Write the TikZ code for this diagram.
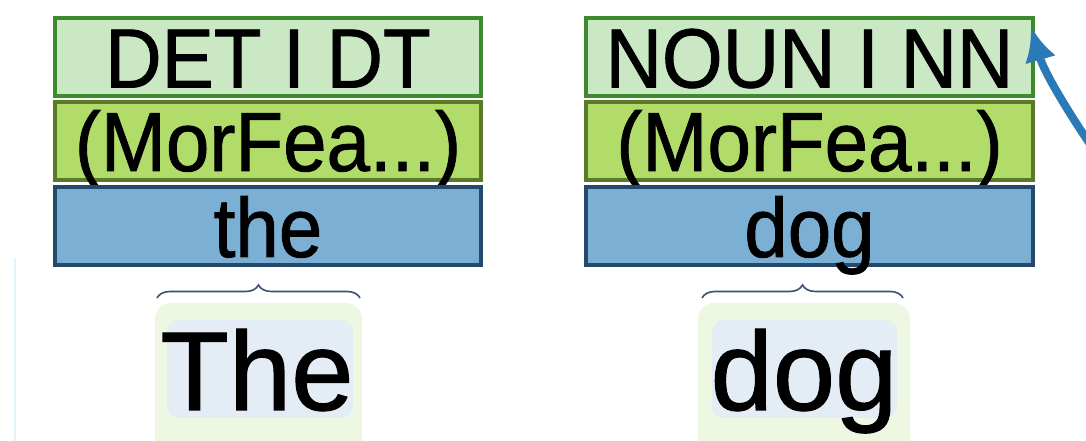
\documentclass[tikz,border=0pt]{standalone}
\usepackage{fontspec}
\setmainfont{Liberation Sans}
\newfontfamily\boxfont[FakeStretch=0.93, FakeBold=1]{Liberation Sans}
\newfontfamily\wordfont[FakeBold=1]{Liberation Sans}
\usetikzlibrary{decorations.pathreplacing,arrows.meta}
\definecolor{tagfill}{HTML}{C9E8C3}
\definecolor{tagdraw}{HTML}{3D8B2E}
\definecolor{morfill}{HTML}{B1DC69}
\definecolor{mordraw}{HTML}{5B7A28}
\definecolor{tokfill}{HTML}{7BAFD4}
\definecolor{tokdraw}{HTML}{25496B}
\definecolor{wordouter}{HTML}{EEF7E2}
\definecolor{wordinner}{HTML}{E4ECF6}
\definecolor{bracecol}{HTML}{3A5070}
\definecolor{arrowcol}{HTML}{2A7AB8}
\definecolor{faintline}{HTML}{E3F3FB}
\tikzset{
  layerbox/.style={rectangle, inner sep=0pt, line width=4pt, minimum height=78pt,
    font=\boxfont\fontsize{84}{86}\selectfont, text height=60pt, text depth=0pt},
  tagbox/.style={layerbox, fill=tagfill, draw=tagdraw},
  morbox/.style={layerbox, fill=morfill, draw=mordraw},
  tokbox/.style={layerbox, fill=tokfill, draw=tokdraw, text height=62pt},
  wordtext/.style={inner sep=0pt, font=\wordfont\fontsize{112}{114}\selectfont, anchor=base},
  outerword/.style={fill=wordouter, rounded corners=16pt},
  innerword/.style={fill=wordinner, rounded corners=12pt},
  wordbrace/.style={draw=bracecol, line width=1.6pt,
    decorate, decoration={brace, amplitude=13pt}},
  deparrow/.style={draw=arrowcol, line width=8pt, -{Latex[length=34pt,width=32pt]}}
}
\begin{document}
\begin{tikzpicture}[x=1pt,y=1pt]
\useasboundingbox (0,0) rectangle (1086,441);
\fill[white] (0,0) rectangle (1086,441);
% faint vertical line at left
\draw[faintline, line width=2.5pt] (15,441-258) -- (15,0);
% word highlight boxes
\fill[outerword] (155,441-303) rectangle (362,-20);
\fill[innerword] (167,441-320) rectangle (353,441-418);
\fill[outerword] (698,441-303) rectangle (910,-20);
\fill[innerword] (712,441-320) rectangle (897,441-418);
% left stack
\node[tagbox, minimum width=426pt] (t1) at (268,441-57.5) {DET I DT};
\node[morbox, minimum width=426pt] (m1) at (268,441-141) {(MorFea...)};
\node[tokbox, minimum width=426pt] (k1) at (268,441-226) {the};
% right stack
\node[tagbox, minimum width=447pt] (t2) at (809.5,441-57.5) {NOUN I NN};
\node[morbox, minimum width=447pt] (m2) at (809.5,441-141) {(MorFea...)};
\node[tokbox, minimum width=447pt] (k2) at (809.5,441-226) {dog};
% words
\node[wordtext] (w1) at (257,441-410) {The};
\node[wordtext] (w2) at (804,441-410) {dog};
% braces
\coordinate (b1l) at (157,441-298);
\coordinate (b1r) at (360,441-298);
\coordinate (b2l) at (702,441-298);
\coordinate (b2r) at (903,441-298);
\draw[wordbrace] (b1l) -- (b1r);
\draw[wordbrace] (b2l) -- (b2r);
% arrow
\coordinate (arrstart) at (1094,441-150);
\coordinate (arrtip) at (1031,441-27);
\draw[deparrow] (arrstart) .. controls (1068,441-112) and (1044,441-72) .. (arrtip);
\end{tikzpicture}
\end{document}
